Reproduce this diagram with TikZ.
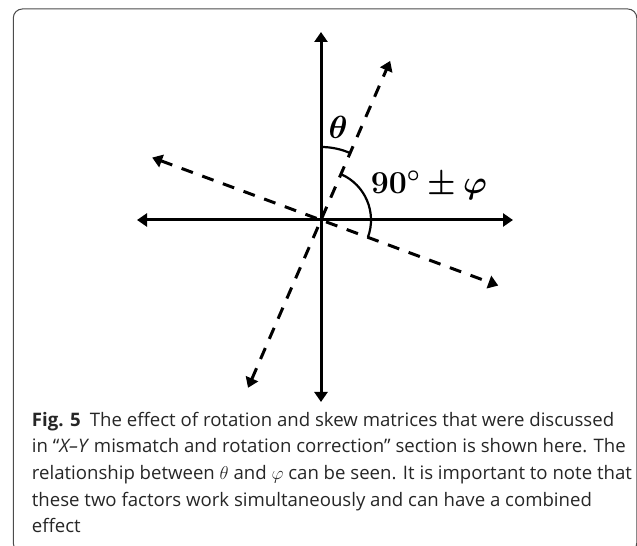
\documentclass[tikz,border=0pt]{standalone}
\usepackage{fix-cm}
\usepackage{amsmath, amssymb}
\usepackage{bm}
\usepackage{fontspec}
\setmainfont{Open Sans}
\usetikzlibrary{arrows.meta,calc}
\tikzset{
        % Solid axes
        axis_line/.style={line width=3pt, {Triangle[length=10pt,width=13pt]}-{Triangle[length=10pt,width=13pt]}},
        % Skewed (dashed) axes
        skew_line/.style={line width=3pt, dash pattern=on 12pt off 10pt, {Triangle[length=10pt,width=13pt]}-{Triangle[length=10pt,width=13pt]}},
        % Angle arcs
        angle_arc/.style={line width=2.2pt},
        % Angle labels
        angle_label/.style={inner sep=0pt, font=\fontsize{32}{38}\selectfont},
        % Caption text
        caption_text/.style={inner sep=0pt, align=left, text=black!85, font=\fontsize{18.6pt}{26.7pt}\selectfont}
}

\begin{document}
\begin{tikzpicture}[x=1pt, y=1pt]
    \useasboundingbox (0,0) rectangle (637,546);
    \clip (0,0) rectangle (637,546);
    % frame
    \draw[black!70, line width=1pt, rounded corners=9pt] (13.3,-6) rectangle (636.8,537);

    \coordinate (O) at (321,326);
    \coordinate (y_top) at ($(O)+(0,188)$);
    \coordinate (y_bot) at ($(O)+(0,-182)$);
    \coordinate (x_left) at ($(O)+(-184,0)$);
    \coordinate (x_right) at ($(O)+(192,0)$);
    \coordinate (s_top) at ($(O)+(66.5:173.5)$);
    \coordinate (s_bot) at ($(O)+(246.5:183)$);
    \coordinate (t_left) at ($(O)+(159.7:180)$);
    \coordinate (t_right) at ($(O)+(-20.3:189)$);

    \draw[axis_line] (y_bot) -- (y_top);
    \draw[axis_line] (x_left) -- (x_right);
    \draw[skew_line] (s_bot) -- (s_top);
    \draw[skew_line] (t_left) -- (t_right);

    \draw[angle_arc] ($(O)+(90:73)$) arc[start angle=90, end angle=66.5, radius=73pt];
    \draw[angle_arc] ($(O)+(66.5:50)$) arc[start angle=66.5, end angle=-20.3, radius=50pt];

    \node[angle_label] (theta) at (338,419) {$\bm{\theta}$};
    \node[angle_label] (phi) at (429,361) {$\bm{90^\circ\pm\varphi}$};

    \node[caption_text, anchor=base west] (caption) at (31.7,13) {%
        \textbf{Fig. 5}\enspace The effect of rotation and skew matrices that were discussed\\
        in “\textit{X–Y} mismatch and rotation correction” section is shown here. The\\
        relationship between $\theta$ and $\varphi$ can be seen. It is important to note that\\
        these two factors work simultaneously and can have a combined\\
        effect};
\end{tikzpicture}
\end{document}
